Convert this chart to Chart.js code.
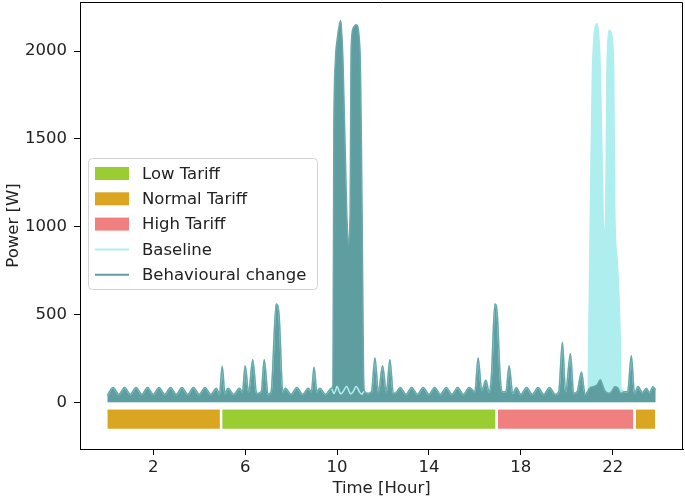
<!DOCTYPE html>
<html>
<head>
<meta charset="utf-8">
<script src="https://cdn.jsdelivr.net/npm/chart.js@4/dist/chart.umd.min.js"></script>
<style>
  body { margin: 0; background: #fff; }
  #wrap { width: 685px; height: 503px; }
</style>
</head>
<body>
<div id="wrap"><canvas id="chart" width="685" height="503"></canvas></div>
<script>
// time of day (hours) shared by both load curves
const hours = [
  0, 0.25, 0.5, 0.75, 1, 1.25, 1.5, 1.75, 2, 2.25, 2.5, 2.75, 3, 3.25, 3.5, 3.75, 4, 4.25, 4.5, 4.75,
  4.88, 5, 5.12, 5.25, 5.5, 5.75, 5.88, 6, 6.15, 6.33, 6.5, 6.7, 6.83, 7, 7.13, 7.35, 7.48, 7.64, 7.75,
  8, 8.25, 8.5, 8.75, 8.88, 9, 9.12, 9.25, 9.5, 9.75,
  9.82, 9.86, 9.93, 10, 10.1, 10.16, 10.26, 10.42, 10.5, 10.57, 10.61, 10.7, 10.83, 11, 11.09, 11.15, 11.2,
  11.35, 11.5, 11.65, 11.8, 11.98, 12.15, 12.3, 12.45, 12.6, 12.75, 13, 13.25, 13.5, 13.75, 14, 14.25,
  14.5, 14.75, 15, 15.25, 15.5, 15.75, 16, 16.14, 16.3, 16.48, 16.62, 16.72, 16.87, 16.97, 17.1, 17.2,
  17.35, 17.49, 17.65, 17.8, 18, 18.25, 18.5, 18.75, 19, 19.25, 19.5, 19.65, 19.81, 19.95, 20.16, 20.3,
  20.45, 20.64, 20.8, 20.9,
  20.93, 20.96, 21, 21.03, 21.12, 21.32, 21.46, 21.58, 21.64, 21.7, 21.75, 21.87, 21.94, 22.04, 22.09,
  22.2, 22.27, 22.32, 22.36,
  22.5, 22.65, 22.81, 22.95, 23.1, 23.3, 23.46, 23.6, 23.75, 23.87
];

const behaviourW = [
  40, 85, 45, 85, 45, 85, 45, 85, 45, 85, 45, 85, 45, 85, 45, 85, 45, 85, 45, 80,
  45, 205, 50, 80, 45, 80, 60, 208, 60, 242, 50, 60, 242, 45, 60, 560, 490, 60, 80,
  45, 85, 45, 80, 60, 200, 60, 80, 45, 80,
  100, 1500, 1950, 2060, 2150, 2174, 1940, 1090, 900, 1090, 2000, 2130, 2151, 2000, 1090, 200, 60,
  50, 60, 253, 60, 208, 60, 242, 50, 60, 85, 45, 85, 45, 85, 45, 85,
  45, 85, 45, 85, 45, 85, 60, 253, 70, 125, 60, 150, 560, 510, 150, 60,
  60, 208, 50, 85, 45, 85, 45, 85, 45, 85, 45, 60, 342, 60, 276, 50,
  60, 172, 45, 60,
  65, 75, 80, 85, 88, 100, 128, 90, 70, 60, 55, 52, 60, 80, 88,
  85, 70, 55, 50,
  60, 60, 265, 50, 90, 55, 80, 55, 88, 70
];

const baselineW = [
  40, 85, 45, 85, 45, 85, 45, 85, 45, 85, 45, 85, 45, 85, 45, 85, 45, 85, 45, 80,
  45, 205, 50, 80, 45, 80, 60, 208, 60, 242, 50, 60, 242, 45, 60, 560, 490, 60, 80,
  45, 85, 45, 80, 60, 200, 60, 80, 45, 80,
  60, 50, 65, 92, 60, 48, 60, 92, 70, 50, 48, 60, 90, 55, 45, 60, 60,
  50, 60, 253, 60, 208, 60, 242, 50, 60, 85, 45, 85, 45, 85, 45, 85,
  45, 85, 45, 85, 45, 85, 60, 253, 70, 125, 60, 150, 560, 510, 150, 60,
  60, 208, 50, 85, 45, 85, 45, 85, 45, 85, 45, 60, 342, 60, 276, 50,
  60, 172, 45, 60,
  80, 400, 800, 1090, 1900, 2157, 1900, 1090, 950, 1090, 1900, 2119, 2100, 1900, 1090,
  800, 600, 400, 80,
  60, 60, 265, 50, 90, 55, 80, 55, 88, 70
];

// tariff periods
const tariffNames = ['Normal Tariff', 'Low Tariff', 'High Tariff', 'Normal Tariff'];
const tariffStart = [0, 5, 17, 23];
const tariffEnd = [4.9, 16.9, 22.9, 23.85];
const tariffTop = -40;
const tariffBottom = -150;

const xTicks = [2, 6, 10, 14, 18, 22];
const yTicks = [0, 500, 1000, 1500, 2000];

const colors = {
  'Low Tariff': '#9acd32',
  'Normal Tariff': '#daa520',
  'High Tariff': '#f08080',
  baseline: '#afeeee',
  behaviour: '#5f9ea0'
};

const FONT = 'DejaVu Sans';
const FSIZE = 16.5;

function pts(ys) {
  return hours.map((h, i) => ({ x: h, y: ys[i] }));
}

const datasets = [
  {
    label: 'Behavioural change',
    data: pts(behaviourW),
    borderColor: '#6aa8aa',
    backgroundColor: colors.behaviour,
    borderWidth: 1.5,
    fill: 'origin',
    pointRadius: 0,
    cubicInterpolationMode: 'monotone'
  },
  {
    label: 'Baseline',
    data: pts(baselineW),
    borderColor: colors.baseline,
    backgroundColor: colors.baseline,
    borderWidth: 1.5,
    fill: 'origin',
    pointRadius: 0,
    cubicInterpolationMode: 'monotone'
  }
];

tariffNames.forEach((name, i) => {
  datasets.push({
    label: name,
    data: [{ x: tariffStart[i], y: tariffTop }, { x: tariffEnd[i], y: tariffTop }],
    borderColor: 'rgba(255,255,255,0.5)',
    borderWidth: 1,
    backgroundColor: colors[name],
    fill: { value: tariffBottom },
    pointRadius: 0,
    tension: 0
  });
});

const legendItems = [
  { text: 'Low Tariff', kind: 'box', color: colors['Low Tariff'] },
  { text: 'Normal Tariff', kind: 'box', color: colors['Normal Tariff'] },
  { text: 'High Tariff', kind: 'box', color: colors['High Tariff'] },
  { text: 'Baseline', kind: 'line', color: colors.baseline },
  { text: 'Behavioural change', kind: 'line', color: colors.behaviour }
];

const framePlugin = {
  id: 'frame',
  afterDraw(chart) {
    const { ctx, chartArea: a } = chart;
    ctx.save();
    ctx.strokeStyle = '#000';
    ctx.lineWidth = 1;
    ctx.beginPath();
    ctx.moveTo(a.left, a.top + 0.5);
    ctx.lineTo(a.right - 0.5, a.top + 0.5);
    ctx.lineTo(a.right - 0.5, a.bottom);
    ctx.stroke();
    ctx.restore();
  }
};

const legendPlugin = {
  id: 'boxLegend',
  afterDraw(chart) {
    const ctx = chart.ctx;
    ctx.save();
    ctx.beginPath();
    ctx.roundRect(88.5, 158.5, 229, 131, 4);
    ctx.fillStyle = 'rgba(255,255,255,0.85)';
    ctx.fill();
    ctx.strokeStyle = '#d4d4d4';
    ctx.lineWidth = 1;
    ctx.stroke();
    ctx.font = FSIZE + 'px "' + FONT + '"';
    ctx.textBaseline = 'middle';
    legendItems.forEach((it, i) => {
      const y = 173.5 + i * 25.3;
      if (it.kind === 'box') {
        ctx.fillStyle = it.color;
        ctx.fillRect(95, y - 6.5, 34, 13);
      } else {
        ctx.strokeStyle = it.color;
        ctx.lineWidth = 2;
        ctx.beginPath();
        ctx.moveTo(95, y);
        ctx.lineTo(129, y);
        ctx.stroke();
      }
      ctx.fillStyle = '#222';
      ctx.fillText(it.text, 142, y + 1);
    });
    ctx.restore();
  }
};

new Chart(document.getElementById('chart'), {
  type: 'line',
  data: { datasets },
  plugins: [framePlugin, legendPlugin],
  options: {
    responsive: false,
    animation: false,
    layout: { padding: { top: 2, right: 2, left: 0, bottom: 0 } },
    plugins: {
      legend: { display: false },
      tooltip: { enabled: false },
      filler: { drawTime: 'beforeDatasetsDraw' }
    },
    scales: {
      x: {
        type: 'linear',
        min: -1.19,
        max: 25.06,
        afterBuildTicks: s => { s.ticks = xTicks.map(v => ({ value: v })); },
        afterFit: s => { s.height = 54; s.paddingLeft = 0; s.paddingRight = 0; },
        grid: { drawOnChartArea: false, drawTicks: true, tickLength: 6, color: '#000' },
        border: { display: true, color: '#000', width: 1 },
        ticks: { color: '#222', padding: 3, maxRotation: 0, callback: v => String(v), font: { family: FONT, size: FSIZE } },
        title: { display: true, text: 'Time [Hour]', color: '#222', padding: { top: 2, bottom: 4 }, font: { family: FONT, size: FSIZE } }
      },
      y: {
        type: 'linear',
        min: -266,
        max: 2280,
        afterBuildTicks: s => { s.ticks = yTicks.map(v => ({ value: v })); },
        afterFit: s => { s.width = 80; s.paddingTop = 0; s.paddingBottom = 0; },
        grid: { drawOnChartArea: false, drawTicks: true, tickLength: 6, color: '#000' },
        border: { display: true, color: '#000', width: 1 },
        ticks: { color: '#222', padding: 7, callback: v => String(v), font: { family: FONT, size: FSIZE } },
        title: { display: true, text: 'Power [W]', color: '#222', padding: { top: 4, bottom: 4 }, font: { family: FONT, size: FSIZE } }
      }
    }
  }
});
</script>
</body>
</html>
